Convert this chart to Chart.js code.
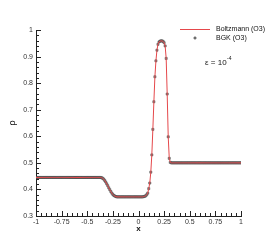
<!DOCTYPE html>
<html>
<head>
<meta charset="utf-8">
<script src="https://cdn.jsdelivr.net/npm/chart.js@4.4.1/dist/chart.umd.min.js"></script>
<style>
html,body{margin:0;padding:0;background:#fff;}
#wrap{width:274px;height:244px;}
</style>
</head>
<body>
<div id="wrap"><canvas id="c" width="274" height="244"></canvas></div>
<script>
// Grid positions x
const xValues = [
-1.00,-0.99,-0.98,-0.97,-0.96,-0.95,-0.94,-0.93,-0.92,-0.91,
-0.90,-0.89,-0.88,-0.87,-0.86,-0.85,-0.84,-0.83,-0.82,-0.81,
-0.80,-0.79,-0.78,-0.77,-0.76,-0.75,-0.74,-0.73,-0.72,-0.71,
-0.70,-0.69,-0.68,-0.67,-0.66,-0.65,-0.64,-0.63,-0.62,-0.61,
-0.60,-0.59,-0.58,-0.57,-0.56,-0.55,-0.54,-0.53,-0.52,-0.51,
-0.50,-0.49,-0.48,-0.47,-0.46,-0.45,-0.44,-0.43,-0.42,-0.41,
-0.40,-0.39,-0.38,-0.37,-0.36,-0.35,-0.34,-0.33,-0.32,-0.31,
-0.30,-0.29,-0.28,-0.27,-0.26,-0.25,-0.24,-0.23,-0.22,-0.21,
-0.20,-0.19,-0.18,-0.17,-0.16,-0.15,-0.14,-0.13,-0.12,-0.11,
-0.10,-0.09,-0.08,-0.07,-0.06,-0.05,-0.04,-0.03,-0.02,-0.01,
0.00,0.01,0.02,0.03,0.04,0.05,0.06,0.07,0.08,0.09,
0.10,0.11,0.12,0.13,0.14,0.15,0.16,0.17,0.18,0.19,
0.20,0.21,0.22,0.23,0.24,0.25,0.26,0.27,0.28,0.29,
0.30,0.31,0.32,0.33,0.34,0.35,0.36,0.37,0.38,0.39,
0.40,0.41,0.42,0.43,0.44,0.45,0.46,0.47,0.48,0.49,
0.50,0.51,0.52,0.53,0.54,0.55,0.56,0.57,0.58,0.59,
0.60,0.61,0.62,0.63,0.64,0.65,0.66,0.67,0.68,0.69,
0.70,0.71,0.72,0.73,0.74,0.75,0.76,0.77,0.78,0.79,
0.80,0.81,0.82,0.83,0.84,0.85,0.86,0.87,0.88,0.89,
0.90,0.91,0.92,0.93,0.94,0.95,0.96,0.97,0.98,0.99,
1.00];

// Density rho, Boltzmann (O3) solution
const rhoBoltzmann = [
0.445,0.445,0.445,0.445,0.445,0.445,0.445,0.445,0.445,0.445,
0.445,0.445,0.445,0.445,0.445,0.445,0.445,0.445,0.445,0.445,
0.445,0.445,0.445,0.445,0.445,0.445,0.445,0.445,0.445,0.445,
0.445,0.445,0.445,0.445,0.445,0.445,0.445,0.445,0.445,0.445,
0.445,0.445,0.445,0.445,0.445,0.445,0.445,0.445,0.445,0.445,
0.445,0.445,0.445,0.445,0.445,0.445,0.445,0.445,0.445,0.445,
0.445,0.445,0.445,0.445,0.444,0.442,0.439,0.434,0.428,0.421,
0.414,0.406,0.399,0.392,0.386,0.381,0.377,0.375,0.373,0.372,
0.372,0.372,0.372,0.372,0.372,0.372,0.372,0.372,0.372,0.372,
0.372,0.372,0.372,0.372,0.372,0.372,0.372,0.372,0.372,0.372,
0.372,0.372,0.372,0.372,0.372,0.373,0.374,0.376,0.380,0.386,
0.403,0.424,0.465,0.530,0.626,0.730,0.824,0.884,0.924,0.946,
0.955,0.958,0.959,0.959,0.957,0.952,0.940,0.893,0.759,0.598,
0.517,0.502,0.500,0.500,0.500,0.500,0.500,0.500,0.500,0.500,
0.500,0.500,0.500,0.500,0.500,0.500,0.500,0.500,0.500,0.500,
0.500,0.500,0.500,0.500,0.500,0.500,0.500,0.500,0.500,0.500,
0.500,0.500,0.500,0.500,0.500,0.500,0.500,0.500,0.500,0.500,
0.500,0.500,0.500,0.500,0.500,0.500,0.500,0.500,0.500,0.500,
0.500,0.500,0.500,0.500,0.500,0.500,0.500,0.500,0.500,0.500,
0.500,0.500,0.500,0.500,0.500,0.500,0.500,0.500,0.500,0.500,
0.500];

// Density rho, BGK (O3) solution (coincides with the Boltzmann curve at plot scale)
const rhoBGK = rhoBoltzmann.slice();

const xTickValues = [-1,-0.75,-0.5,-0.25,0,0.25,0.5,0.75,1];
const xTickLabels = ['-1','-0.75','-0.5','-0.25','0','0.25','0.5','0.75','1'];
const yTickValues = [0.3,0.4,0.5,0.6,0.7,0.8,0.9,1];
const yTickLabels = ['0.3','0.4','0.5','0.6','0.7','0.8','0.9','1'];
const seriesNames = ['Boltzmann (O3)','BGK (O3)'];

const FONT = 'Liberation Sans, Arial, Helvetica, sans-serif';
const LINE_COLOR = '#e5484b';

const toPts = (ys) => xValues.map((x,i)=>({x:x,y:ys[i]}));

const tickPlugin = {
  id:'innerTicks',
  afterDraw(chart){
    const ctx = chart.ctx;
    const xs = chart.scales.x, ys = chart.scales.y;
    const a = chart.chartArea;
    ctx.save();
    ctx.strokeStyle = '#222';
    ctx.lineWidth = 1;
    ctx.beginPath();
    for (let k=0;k<=40;k++){
      const v = -1 + k*0.05;
      const px = Math.round(xs.getPixelForValue(v))+0.5;
      const len = (k%5===0)?5:3;
      ctx.moveTo(px,a.bottom); ctx.lineTo(px,a.bottom-len);
    }
    for (let k=0;k<=35;k++){
      const v = 0.3 + k*0.02;
      const py = Math.round(ys.getPixelForValue(v))+0.5;
      const len = (k%5===0)?5:3;
      ctx.moveTo(a.left,py); ctx.lineTo(a.left+len,py);
    }
    ctx.stroke();

    // legend
    const lx0 = 180, lx1 = 210, ly0 = 29, ly1 = 38;
    ctx.strokeStyle = LINE_COLOR;
    ctx.lineWidth = 1;
    ctx.beginPath(); ctx.moveTo(lx0,ly0+0.5); ctx.lineTo(lx1,ly0+0.5); ctx.stroke();
    ctx.fillStyle = '#999'; ctx.strokeStyle='#444'; ctx.lineWidth=0.6;
    ctx.beginPath(); ctx.rect(194,37,2,2); ctx.fill(); ctx.stroke();
    ctx.fillStyle = '#111';
    ctx.font = '7px ' + FONT;
    ctx.textBaseline = 'middle';
    ctx.textAlign = 'left';
    ctx.fillText(seriesNames[0], 216, ly0+0.5);
    ctx.fillText(seriesNames[1], 216, ly1);
    ctx.font = '8px ' + FONT;
    ctx.textBaseline = 'alphabetic';
    const t = 'ε = 10';
    ctx.fillText(t, 205, 65);
    const w = ctx.measureText(t).width;
    ctx.font = '5px ' + FONT;
    ctx.fillText('-4', 205 + w + 0.5, 60);
    ctx.restore();
  }
};

new Chart(document.getElementById('c'), {
  type:'scatter',
  data:{
    datasets:[
      {label:seriesNames[0], data:toPts(rhoBoltzmann), showLine:true, borderColor:LINE_COLOR, borderWidth:1, pointRadius:0, tension:0},
      {label:seriesNames[1], data:toPts(rhoBGK), showLine:false, pointStyle:'rect', pointRadius:1.45, pointBackgroundColor:'#8a8a8a', pointBorderColor:'#444', pointBorderWidth:0.6}
    ]
  },
  options:{
    responsive:false,
    animation:false,
    devicePixelRatio:1,
    layout:{padding:{left:0,top:30,right:33,bottom:0}},
    plugins:{legend:{display:false}, tooltip:{enabled:false}},
    scales:{
      x:{
        type:'linear', min:-1, max:1,
        afterFit(s){ s.height = 28; },
        afterBuildTicks(s){ s.ticks = xTickValues.map(v=>({value:v})); },
        ticks:{ callback:(v,i)=>xTickLabels[i], font:{family:FONT,size:7}, color:'#333', padding:2, maxRotation:0, autoSkip:false },
        grid:{drawOnChartArea:false, drawTicks:false},
        border:{display:true, color:'#222', width:1},
        title:{display:true, text:'x', font:{family:FONT,size:8,weight:'bold'}, color:'#111', padding:{top:0,bottom:10}}
      },
      y:{
        type:'linear', min:0.3, max:1,
        afterFit(s){ s.width = 36; },
        afterBuildTicks(s){ s.ticks = yTickValues.map(v=>({value:v})); },
        ticks:{ callback:(v,i)=>yTickLabels[i], font:{family:FONT,size:7}, color:'#333', padding:3, autoSkip:false },
        grid:{drawOnChartArea:false, drawTicks:false},
        border:{display:true, color:'#222', width:1},
        title:{display:true, text:'ρ', font:{family:FONT,size:9}, color:'#111', padding:{top:7,bottom:0}}
      }
    }
  },
  plugins:[tickPlugin]
});
</script>
</body>
</html>
